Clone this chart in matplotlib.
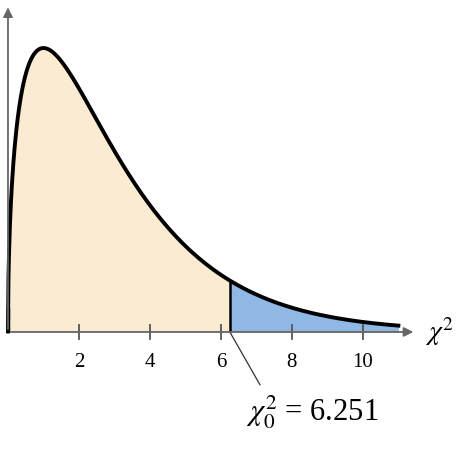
import numpy as np
import matplotlib.pyplot as plt
from math import gamma

plt.rcParams['font.family'] = ['Liberation Serif', 'DejaVu Serif']
plt.rcParams['mathtext.fontset'] = 'stix'

# chart values
df = 3
chi2_crit = 6.251
x_end = 11.0
tick_vals = [2, 4, 6, 8, 10]

def pdf(x):
    return x**(df/2 - 1) * np.exp(-x/2) / (2**(df/2) * gamma(df/2))

x = np.linspace(1e-6, x_end, 800)
y = pdf(x)

fig = plt.figure(figsize=(4.58, 4.54), dpi=100)
ax = fig.add_axes([0, 0, 1, 1])
ax.set_xlim(-0.225, 12.68)
ax.set_ylim(-0.104, 0.2829)
ax.axis('off')

left = x <= chi2_crit
ax.fill_between(x[left], 0, y[left], color='#FCEBD3', lw=0)
ax.fill_between(x[~left], 0, y[~left], color='#8FB8E4', lw=0)
ax.vlines(chi2_crit, 0, pdf(chi2_crit), color='black', lw=1.8)
ax.vlines(0, 0, y[0] + 0.02, color='black', lw=2.5)
ax.plot(x, y, color='black', lw=2.8)

# axes with arrows
ax.annotate('', xy=(11.5, 0), xytext=(0, 0),
            arrowprops=dict(arrowstyle='-|>', color='#666666', lw=1.3, mutation_scale=14))
ax.annotate('', xy=(0, 0.279), xytext=(0, 0),
            arrowprops=dict(arrowstyle='-|>', color='#666666', lw=1.3, mutation_scale=14))

for t in tick_vals:
    ax.plot([t, t], [-0.006, 0.006], color='#555555', lw=1.3)
    ax.text(t, -0.018, str(t), ha='center', va='top', fontsize=15)

ax.text(11.75, 0, r'$\chi^2$', ha='left', va='center', fontsize=20)
ax.plot([chi2_crit, 7.1], [0, -0.045], color='#333333', lw=0.9)
ax.text(6.7, -0.068, r'$\chi^2_0$ = 6.251', ha='left', va='center', fontsize=22)

fig.savefig('out.png', dpi=100)
